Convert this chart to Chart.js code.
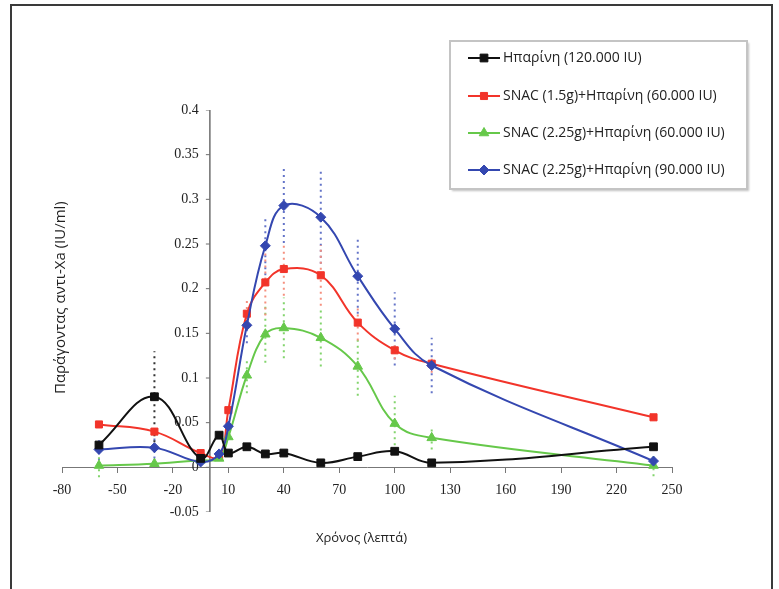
<!DOCTYPE html>
<html>
<head>
<meta charset="utf-8">
<script src="https://cdn.jsdelivr.net/npm/chart.js@4/dist/chart.umd.min.js"></script>
<style>
html, body { margin: 0; padding: 0; background: #fff; }
#wrap { position: relative; width: 779px; height: 589px; overflow: hidden; }
#frame { position: absolute; left: 10px; top: 4px; width: 763px; height: 640px; box-sizing: border-box; border: 2px solid #3a3a3a; }
canvas { position: absolute; left: 0; top: 0; }
</style>
</head>
<body>
<div id="wrap">
    <div id="frame"></div>
    <canvas id="chart" width="779" height="589"></canvas>
</div>
<script>
"use strict";

// time points (minutes)
var times = [-60, -30, -5, 5, 10, 20, 30, 40, 60, 80, 100, 120, 240];

// anti-Xa (IU/ml)
var heparin120 = [0.025, 0.079, 0.010, 0.036, 0.016, 0.023, 0.015, 0.016, 0.005, 0.012, 0.018, 0.005, 0.023];
var snac15Hep60 = [0.048, 0.040, 0.016, 0.012, 0.064, 0.172, 0.207, 0.222, 0.215, 0.162, 0.131, 0.116, 0.056];
var snac225Hep60 = [0.002, 0.004, 0.008, 0.010, 0.034, 0.103, 0.149, 0.156, 0.145, 0.113, 0.049, 0.033, 0.002];
var snac225Hep90 = [0.020, 0.022, 0.006, 0.015, 0.046, 0.159, 0.248, 0.293, 0.280, 0.214, 0.155, 0.114, 0.007];

// error bar half-lengths (0 = none visible)
var heparin120Err = [0.006, 0.051, 0, 0, 0, 0, 0, 0, 0, 0, 0, 0, 0];
var snac15Hep60Err = [0, 0, 0, 0, 0, 0.015, 0.037, 0.030, 0.034, 0.020, 0.010, 0.010, 0];
var snac225Hep60Err = [0.013, 0, 0, 0, 0, 0.020, 0.032, 0.034, 0.032, 0.033, 0.031, 0.013, 0.012];
var snac225Hep90Err = [0.012, 0.012, 0, 0, 0, 0.020, 0.033, 0.042, 0.052, 0.042, 0.041, 0.031, 0];

var seriesLabels = [
    "Ηπαρίνη (120.000 IU)",
    "SNAC (1.5g)+Ηπαρίνη (60.000 IU)",
    "SNAC (2.25g)+Ηπαρίνη (60.000 IU)",
    "SNAC (2.25g)+Ηπαρίνη (90.000 IU)"
];

var xTickValues = [-80, -50, -20, 10, 40, 70, 100, 130, 160, 190, 220, 250];
var yTickValues = [-0.05, 0, 0.05, 0.1, 0.15, 0.2, 0.25, 0.3, 0.35, 0.4];

var xTitle = "Χρόνος (λεπτά)";
var yTitle = "Παράγοντας αντι-Χa (IU/ml)";

function toPoints(vals) {
    return times.map(function (t, i) { return { x: t, y: vals[i] }; });
}

function errorBars(vals, errs, color) {
    var sets = [];
    for (var i = 0; i < times.length; i++) {
        if (!errs[i]) continue;
        sets.push({
            data: [{ x: times[i], y: vals[i] - errs[i] }, { x: times[i], y: vals[i] + errs[i] }],
            borderColor: color,
            borderWidth: 2,
            borderDash: [2, 4],
            pointRadius: 0,
            tension: 0,
            order: 10,
            isHelper: true
        });
    }
    return sets;
}

var mainSets = [
    {
        label: seriesLabels[0], data: toPoints(heparin120),
        borderColor: "#111111", backgroundColor: "#111111",
        pointStyle: "rect", pointRadius: 5.5, order: 0
    },
    {
        label: seriesLabels[1], data: toPoints(snac15Hep60),
        borderColor: "#f2342a", backgroundColor: "#f2342a",
        pointStyle: "rect", pointRadius: 5, order: 3
    },
    {
        label: seriesLabels[2], data: toPoints(snac225Hep60),
        borderColor: "#66c84a", backgroundColor: "#66c84a",
        pointStyle: "triangle", pointRadius: 5.5, order: 2
    },
    {
        label: seriesLabels[3], data: toPoints(snac225Hep90),
        borderColor: "#3447b0", backgroundColor: "#3447b0",
        pointStyle: "rectRot", pointRadius: 5, order: 1
    }
];
mainSets.forEach(function (ds) {
    ds.borderWidth = 2;
    ds.pointBorderWidth = 1;
    ds.tension = 0.4;
});

// vertical axis through x = 0, with tick marks pointing left
var yAxisLine = {
    data: yTickValues.map(function (v) { return { x: 0, y: v }; }),
    borderColor: "#6e6e6e",
    borderWidth: 1.5,
    tension: 0,
    pointStyle: "dash",
    pointRotation: 180,
    pointRadius: 4,
    pointBorderColor: "#6e6e6e",
    pointBorderWidth: 1,
    order: 20,
    isHelper: true
};

var datasets = [yAxisLine]
    .concat(errorBars(heparin120, heparin120Err, "#333333"))
    .concat(errorBars(snac15Hep60, snac15Hep60Err, "#f5907f"))
    .concat(errorBars(snac225Hep60, snac225Hep60Err, "#82d46c"))
    .concat(errorBars(snac225Hep90, snac225Hep90Err, "#6474c8"))
    .concat(mainSets);

// legend box + axis titles drawn on the canvas
var overlayPlugin = {
    id: "overlay",
    afterDraw: function (chart) {
        var ctx = chart.ctx;
        var area = chart.chartArea;
        ctx.save();

        // axis titles
        ctx.fillStyle = "#222";
        ctx.textAlign = "center";
        ctx.textBaseline = "middle";
        ctx.font = "13px 'Open Sans'";
        ctx.fillText(xTitle, chart.scales.x.getPixelForValue(82), area.bottom + 26);
        ctx.save();
        ctx.translate(area.left - 1, chart.scales.y.getPixelForValue(0.19));
        ctx.rotate(-Math.PI / 2);
        ctx.font = "15px 'Open Sans'";
        ctx.fillText(yTitle, 0, 0);
        ctx.restore();

        // legend
        ctx.save();
        ctx.shadowColor = "rgba(0,0,0,0.25)";
        ctx.shadowOffsetX = 2;
        ctx.shadowOffsetY = 2;
        ctx.shadowBlur = 2;
        ctx.fillStyle = "#fff";
        ctx.fillRect(450, 41, 297, 148);
        ctx.restore();
        ctx.strokeStyle = "#c4c4c4";
        ctx.lineWidth = 2;
        ctx.strokeRect(450, 41, 297, 148);

        var rows = [58, 96, 133, 170];
        var sets = chart.data.datasets.filter(function (d) { return !d.isHelper; });
        sets.forEach(function (ds, i) {
            var y = rows[i];
            ctx.strokeStyle = ds.borderColor;
            ctx.lineWidth = 2;
            ctx.beginPath();
            ctx.moveTo(468, y);
            ctx.lineTo(500, y);
            ctx.stroke();
            ctx.fillStyle = ds.backgroundColor;
            ctx.lineWidth = 1;
            Chart.helpers.drawPoint(ctx, { pointStyle: ds.pointStyle, radius: ds.pointRadius, rotation: 0, borderWidth: 1 }, 484, y);
            ctx.fillStyle = "#222";
            ctx.textAlign = "left";
            ctx.font = "14px 'Open Sans'";
            ctx.fillText(ds.label, 503, y);
        });
        ctx.restore();
    }
};

var tickFont = { family: "'Liberation Serif', serif", size: 14 };

new Chart(document.getElementById("chart"), {
    type: "line",
    data: { datasets: datasets },
    plugins: [overlayPlugin],
    options: {
        responsive: false,
        animation: false,
        layout: { padding: { left: 62, right: 107, top: 110, bottom: 77 } },
        plugins: { legend: { display: false }, tooltip: { enabled: false } },
        scales: {
            x: {
                type: "linear",
                position: { y: 0 },
                min: xTickValues[0],
                max: xTickValues[xTickValues.length - 1],
                afterBuildTicks: function (s) { s.ticks = xTickValues.map(function (v) { return { value: v }; }); },
                afterFit: function (s) { s.height = 0; },
                grid: { drawOnChartArea: false, tickLength: 5, color: "#777" },
                border: { color: "#777" },
                ticks: { font: tickFont, color: "#222", padding: 10, maxRotation: 0, autoSkip: false }
            },
            y: {
                type: "linear",
                position: { x: -6 },
                min: yTickValues[0],
                max: yTickValues[yTickValues.length - 1],
                afterBuildTicks: function (s) { s.ticks = yTickValues.map(function (v) { return { value: v }; }); },
                afterFit: function (s) { s.width = 0; },
                grid: { display: false },
                border: { display: false },
                ticks: {
                    font: tickFont, color: "#222", autoSkip: false,
                    callback: function (v) { return String(Math.round(v * 100) / 100); }
                }
            }
        }
    }
});
</script>
</body>
</html>
